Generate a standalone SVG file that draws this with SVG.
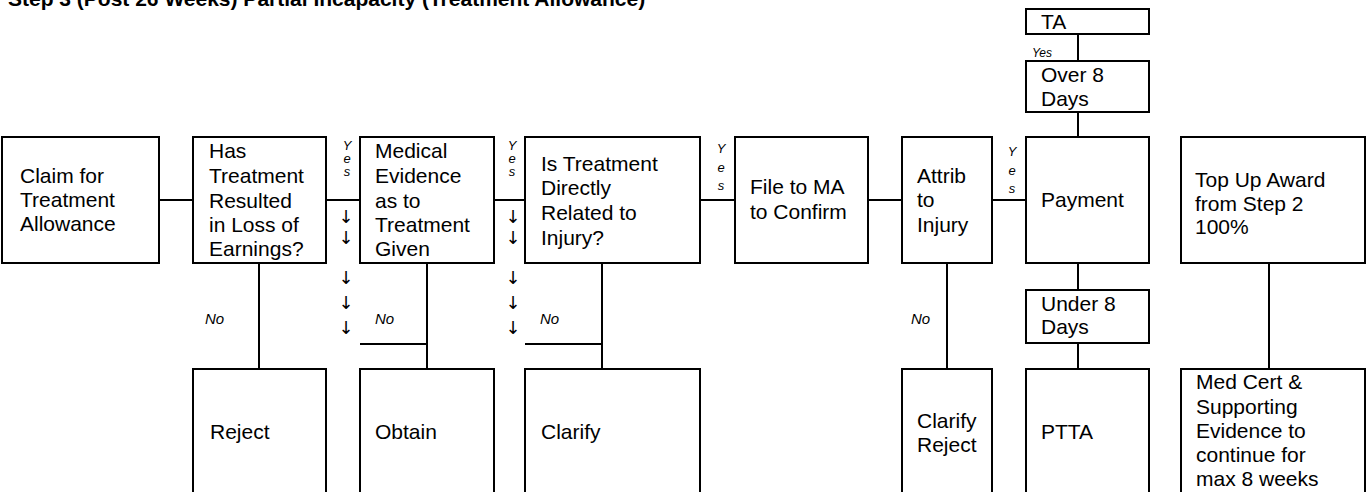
<svg xmlns="http://www.w3.org/2000/svg" width="1372" height="492" viewBox="0 0 1372 492">
<style>
.box{fill:#fff;stroke:#000;stroke-width:2}
.ln{stroke:#000;stroke-width:2;fill:none}
text{font-family:"Liberation Sans",Arial,sans-serif;fill:#000}
.t{font-size:21px}
.h{font-size:21px;font-weight:bold}
.y{font-size:13px;font-style:italic;text-anchor:middle}
.no{font-size:15px;font-style:italic}
.ar{font-size:18px;text-anchor:middle}
.ar text{font-family:"DejaVu Sans",sans-serif}
.sy{font-size:12px;font-style:italic}
</style>
<rect width="1372" height="492" fill="#fff"/>
<text class="h" x="8" y="6">Step 3 (Post 26 Weeks) Partial Incapacity (Treatment Allowance)</text>

<g id="connectors">
<path class="ln" d="M159 200H193 M326 200H360 M494 200H525 M700 200H735 M868 200H902 M992 200H1026"/>
<path class="ln" d="M259 263V369 M427 263V369 M360 344H427 M602 263V369 M525 344H602 M947 263V369"/>
<path class="ln" d="M1078 34V61 M1078 112V137 M1078 263V290 M1078 343V369 M1269 263V369"/>
<g class="y">
<text x="347" y="150">Y</text><text x="347" y="163">e</text><text x="347" y="176">s</text>
<text x="512" y="150">Y</text><text x="512" y="163">e</text><text x="512" y="176">s</text>
<text x="721" y="153">Y</text><text x="721" y="172">e</text><text x="721" y="190">s</text>
<text x="1012" y="156">Y</text><text x="1012" y="175">e</text><text x="1012" y="193">s</text>
</g>
<g class="ar">
<text x="346" y="223">↓&#xFE0E;</text><text x="346" y="244">↓&#xFE0E;</text><text x="346" y="284">↓&#xFE0E;</text><text x="346" y="309">↓&#xFE0E;</text><text x="346" y="334">↓&#xFE0E;</text>
<text x="513" y="223">↓&#xFE0E;</text><text x="513" y="244">↓&#xFE0E;</text><text x="513" y="284">↓&#xFE0E;</text><text x="513" y="309">↓&#xFE0E;</text><text x="513" y="334">↓&#xFE0E;</text>
</g>
<g class="no">
<text x="205" y="324">No</text>
<text x="375" y="324">No</text>
<text x="540" y="324">No</text>
<text x="911" y="324">No</text>
</g>
<text class="sy" x="1032" y="57">Yes</text>
</g>

<g id="claim"><rect class="box" x="2" y="137" width="157" height="126"/>
<text class="t" x="20"><tspan x="20" y="183">Claim for</tspan><tspan x="20" y="207">Treatment</tspan><tspan x="20" y="231">Allowance</tspan></text></g>

<g id="loss"><rect class="box" x="193" y="137" width="133" height="126"/>
<text class="t"><tspan x="209" y="158">Has</tspan><tspan x="209" y="183">Treatment</tspan><tspan x="209" y="208">Resulted</tspan><tspan x="209" y="232">in Loss of</tspan><tspan x="209" y="256">Earnings?</tspan></text></g>

<g id="medical"><rect class="box" x="360" y="137" width="134" height="126"/>
<text class="t"><tspan x="375" y="158">Medical</tspan><tspan x="375" y="183">Evidence</tspan><tspan x="375" y="208">as to</tspan><tspan x="375" y="232">Treatment</tspan><tspan x="375" y="256">Given</tspan></text></g>

<g id="related"><rect class="box" x="525" y="137" width="175" height="126"/>
<text class="t"><tspan x="541" y="171">Is Treatment</tspan><tspan x="541" y="195">Directly</tspan><tspan x="541" y="220">Related to</tspan><tspan x="541" y="245">Injury?</tspan></text></g>

<g id="filema"><rect class="box" x="735" y="137" width="133" height="126"/>
<text class="t"><tspan x="750" y="194">File to MA</tspan><tspan x="750" y="219">to Confirm</tspan></text></g>

<g id="attrib"><rect class="box" x="902" y="137" width="90" height="126"/>
<text class="t"><tspan x="917" y="183">Attrib</tspan><tspan x="917" y="207">to</tspan><tspan x="917" y="232">Injury</tspan></text></g>

<g id="payment"><rect class="box" x="1026" y="137" width="123" height="126"/>
<text class="t" x="1041" y="207">Payment</text></g>

<g id="ta"><rect class="box" x="1026" y="9" width="123" height="25"/>
<text class="t" x="1041" y="29">TA</text></g>

<g id="over8"><rect class="box" x="1026" y="61" width="123" height="51"/>
<text class="t"><tspan x="1041" y="82">Over 8</tspan><tspan x="1041" y="106">Days</tspan></text></g>

<g id="under8"><rect class="box" x="1026" y="290" width="123" height="53"/>
<text class="t"><tspan x="1041" y="311">Under 8</tspan><tspan x="1041" y="334">Days</tspan></text></g>

<g id="topup"><rect class="box" x="1181" y="137" width="184" height="126"/>
<text class="t"><tspan x="1195" y="187">Top Up Award</tspan><tspan x="1195" y="211">from Step 2</tspan><tspan x="1195" y="234">100%</tspan></text></g>

<g id="reject"><rect class="box" x="193" y="369" width="133" height="140"/>
<text class="t" x="210" y="439">Reject</text></g>

<g id="obtain"><rect class="box" x="360" y="369" width="134" height="140"/>
<text class="t" x="375" y="439">Obtain</text></g>

<g id="clarify"><rect class="box" x="525" y="369" width="175" height="140"/>
<text class="t" x="541" y="439">Clarify</text></g>

<g id="clarifyreject"><rect class="box" x="902" y="369" width="90" height="140"/>
<text class="t"><tspan x="917" y="428">Clarify</tspan><tspan x="917" y="452">Reject</tspan></text></g>

<g id="ptta"><rect class="box" x="1026" y="369" width="123" height="140"/>
<text class="t" x="1041" y="439">PTTA</text></g>

<g id="medcert"><rect class="box" x="1181" y="369" width="184" height="140"/>
<text class="t"><tspan x="1196" y="389">Med Cert &amp;</tspan><tspan x="1196" y="414">Supporting</tspan><tspan x="1196" y="438">Evidence to</tspan><tspan x="1196" y="462">continue for</tspan><tspan x="1196" y="486">max 8 weeks</tspan></text></g>
</svg>
